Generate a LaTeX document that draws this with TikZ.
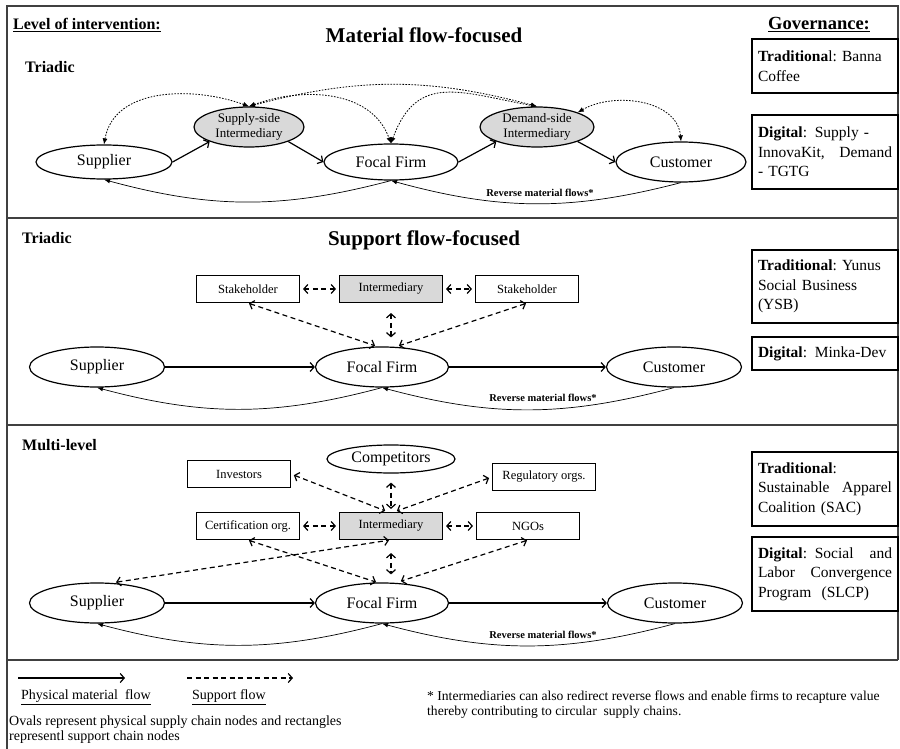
\documentclass[tikz,border=0pt]{standalone}
\usepackage{fontspec}
\setmainfont{Liberation Serif}
\usepackage{tikz}
\usetikzlibrary{shapes,arrows.meta,positioning}
\definecolor{mgray}{HTML}{D9D9D9}
\definecolor{mline}{HTML}{404040}
\tikzstyle{oval}=[ellipse, draw=black, line width=1.2pt, inner sep=0pt, font=\fontsize{16}{18}\selectfont]
\tikzstyle{ioval}=[oval, fill=mgray, align=center, font=\fontsize{13}{15}\selectfont]
\tikzstyle{box}=[rectangle, draw=black, line width=1.1pt, minimum width=103pt, minimum height=27pt, inner sep=0pt, font=\fontsize{12.5}{14}\selectfont]
\tikzstyle{ibox}=[box, fill=mgray]
\tikzstyle{gov}=[rectangle, draw=black, line width=1.1pt, minimum width=146pt, text width=134pt, align=left, inner sep=0pt, font=\fontsize{15.5}{19.5}\selectfont]
\tikzstyle{head}=[inner sep=0pt, font=\bfseries\fontsize{16}{18}\selectfont]
\tikzstyle{ttl}=[inner sep=0pt, font=\bfseries\fontsize{21}{24}\selectfont]
\tikzstyle{rlbl}=[inner sep=0pt, font=\bfseries\fontsize{10.5}{12}\selectfont]
\tikzstyle{leg}=[inner sep=1pt, align=left, font=\fontsize{14}{15}\selectfont]
\tikzstyle{l1}=[line width=1.2pt]
\tikzstyle{mat}=[l1, ->]
\tikzstyle{rev}=[line width=0.7pt, -{Latex[length=6pt,width=4.5pt]}]
\tikzstyle{spt}=[l1, dash pattern=on 5pt off 3.5pt, <->, shorten <=3pt, shorten >=3pt]
\tikzstyle{dtt}=[line width=0.8pt, dash pattern=on 1.6pt off 1.4pt, {Latex[length=6pt,width=5pt]}-{Latex[length=6pt,width=5pt]}]
\tikzstyle{frm}=[line width=1.6pt, draw=mline]

\begin{document}
\begin{tikzpicture}[x=1pt, y=1pt, >={Straight Barb[length=4pt,width=9pt]}]
    \useasboundingbox (0,0) rectangle (900,-749);
    % frame
    \draw[frm] (7,-749) -- (7,-6) -- (898,-6) -- (898,-660);
    \draw[frm] (7,-218) -- (898,-218);
    \draw[frm] (7,-425) -- (898,-425);
    \draw[frm] (7,-660) -- (898,-660);

    \node[head, anchor=west] (lvl) at (13,-25) {\underline{Level of intervention:}};
    \node[head, font=\bfseries\fontsize{18.5}{20}\selectfont] (govh) at (819,-25) {\underline{Governance:}};

    % material flow-focused
    \node[ttl] (ttl1) at (424,-35) {Material flow-focused};
    \node[head, anchor=west] (tri1) at (25,-67) {Triadic};
    \node[oval, minimum width=136pt, minimum height=34pt] (sup1) at (104,-162) {Supplier};
    \node[ioval, minimum width=110pt, minimum height=40pt] (ssi) at (249,-127) {Supply-side\\Intermediary};
    \node[oval, minimum width=134pt, minimum height=36pt] (foc1) at (391,-162) {Focal Firm};
    \node[ioval, minimum width=114pt, minimum height=40pt] (dsi) at (537,-127) {Demand-side\\Intermediary};
    \node[oval, minimum width=130pt, minimum height=40pt] (cus1) at (681,-162) {Customer};
    \draw[mat] (sup1.east) -- (ssi.south west);
    \draw[mat] (ssi.south east) -- (foc1.west);
    \draw[mat] (foc1.east) -- (dsi.south west);
    \draw[mat] (dsi.south east) -- (cus1.west);
    \draw[dtt] (ssi.north) to[out=160, in=80] (sup1.north);
    \draw[dtt] (ssi.north) to[out=20, in=110] (foc1.north);
    \draw[dtt] (ssi.north) to[out=15, in=165] (dsi.north);
    \draw[dtt] (foc1.north) to[out=70, in=170, looseness=1.3] (dsi.north);
    \draw[dtt] (dsi.north east) to[out=30, in=95] (cus1.north);
    \draw[rev] (cus1.south) to[bend left=15] (foc1.south);
    \draw[rev] (foc1.south) to[bend left=15] (sup1.south);
    \node[rlbl] (rl1) at (540,-193) {Reverse material flows*};

    % support flow-focused
    \node[ttl] (ttl2) at (424,-240) {Support flow-focused};
    \node[head, anchor=west] (tri2) at (22,-238) {Triadic};
    \node[box]  (stk1) at (248,-289) {Stakeholder};
    \node[ibox] (int2) at (391,-289) {Intermediary};
    \node[box]  (stk2) at (527,-289) {Stakeholder};
    \node[oval, minimum width=135pt, minimum height=40pt] (sup2) at (97,-367) {Supplier};
    \node[oval, minimum width=133pt, minimum height=40pt] (foc2) at (382,-367) {Focal Firm};
    \node[oval, minimum width=135pt, minimum height=40pt] (cus2) at (674,-367) {Customer};
    \draw[mat] (sup2) -- (foc2);
    \draw[mat] (foc2) -- (cus2);
    \draw[spt] (stk1) -- (int2);
    \draw[spt] (int2) -- (stk2);
    \draw[spt, shorten <=10pt, shorten >=9pt] (int2.south) -- (int2.south |- foc2.north);
    \draw[spt, shorten <=1pt, shorten >=2pt] (stk1.south) -- ([xshift=-5pt]foc2.north);
    \draw[spt, shorten <=1pt, shorten >=2pt] (stk2.south) -- ([xshift=15pt]foc2.north);
    \draw[rev] (cus2.south) to[bend left=15] (foc2.south);
    \draw[rev] (foc2.south) to[bend left=15] (sup2.south);
    \node[rlbl] (rl2) at (543,-398) {Reverse material flows*};

    % multi-level
    \node[head, anchor=west] (mul) at (22,-445) {Multi-level};
    \node[box]  (inv) at (239,-474) {Investors};
    \node[oval, minimum width=128pt, minimum height=28pt] (com) at (391,-459) {Competitors};
    \node[box]  (reg) at (544,-477) {Regulatory orgs.};
    \node[box]  (cer) at (248,-526) {Certification org.};
    \node[ibox] (int3) at (391,-526) {Intermediary};
    \node[box]  (ngo) at (528,-526) {NGOs};
    \node[oval, minimum width=135pt, minimum height=40pt] (sup3) at (97,-603) {Supplier};
    \node[oval, minimum width=133pt, minimum height=40pt] (foc3) at (382,-603) {Focal Firm};
    \node[oval, minimum width=135pt, minimum height=40pt] (cus3) at (675,-603) {Customer};
    \draw[mat] (sup3) -- (foc3);
    \draw[mat] (foc3) -- (cus3);
    \draw[spt] (inv.east) -- ([xshift=-3pt]int3.north);
    \draw[spt, shorten <=9pt] (com.south) -- (int3.north);
    \draw[spt] (reg.west) -- ([xshift=3pt]int3.north);
    \draw[spt] (cer) -- (int3);
    \draw[spt] (int3) -- (ngo);
    \draw[spt, shorten <=13pt, shorten >=8pt] (int3.south) -- (int3.south |- foc3.north);
    \draw[spt, shorten <=1pt, shorten >=1pt] (cer.south) -- ([xshift=-5pt]foc3.north);
    \draw[spt, shorten <=1pt, shorten >=4pt] (ngo.south) -- ([xshift=15pt]foc3.north);
    \draw[spt, shorten <=1pt, shorten >=1pt] ([xshift=18pt]sup3.north) -- ([xshift=-1pt]int3.south);
    \draw[rev] (cus3.south) to[bend left=15] (foc3.south);
    \draw[rev] (foc3.south) to[bend left=15] (sup3.south);
    \node[rlbl] (rl3) at (543,-635) {Reverse material flows*};

    % governance
    \node[gov, minimum height=54pt] (g1) at (825,-66) {\textbf{Traditiona}l:\ Banna\\Coffee};
    \node[gov, minimum height=74pt] (g2) at (825,-152) {\textbf{Digital}: Supply -\\InnovaKit,\hfill Demand\\- TGTG};
    \node[gov, minimum height=73pt] (g3) at (825,-286.5) {\textbf{Traditional}:\ Yunus\\Social Business\\(YSB)};
    \node[gov, minimum height=33pt] (g4) at (825,-353.5) {\textbf{Digital}: Minka-Dev};
    \node[gov, minimum height=74pt] (g5) at (825,-489) {\textbf{Traditional}:\\Sustainable\hfill Apparel\\Coalition (SAC)};
    \node[gov, minimum height=74pt] (g6) at (825,-574) {\textbf{Digital}: Social\hfill and\\Labor\hfill Convergence\\Program\ \ (SLCP)};

    % legend
    \coordinate (pa) at (18,-678);
    \coordinate (pb) at (125,-678);
    \coordinate (sa) at (187,-678);
    \coordinate (sb) at (293,-678);
    \draw[mat] (pa) -- (pb);
    \draw[l1, dash pattern=on 5pt off 3.5pt, ->] (sa) -- (sb);
    \node[leg, anchor=west] (lg1) at (20,-697) {\underline{Physical material\ \ flow}};
    \node[leg, anchor=west] (lg2) at (191,-697) {\underline{Support flow}};
    \node[leg, anchor=west] (lg3) at (8,-729.5) {Ovals represent physical supply chain nodes and rectangles\\representl support chain nodes};
    \node[leg, anchor=west, font=\fontsize{13.6}{15}\selectfont] (lg4) at (426,-704.5) {* Intermediaries can also redirect reverse flows and enable firms to recapture value\\thereby contributing to circular\ \ supply chains.};
\end{tikzpicture}
\end{document}
